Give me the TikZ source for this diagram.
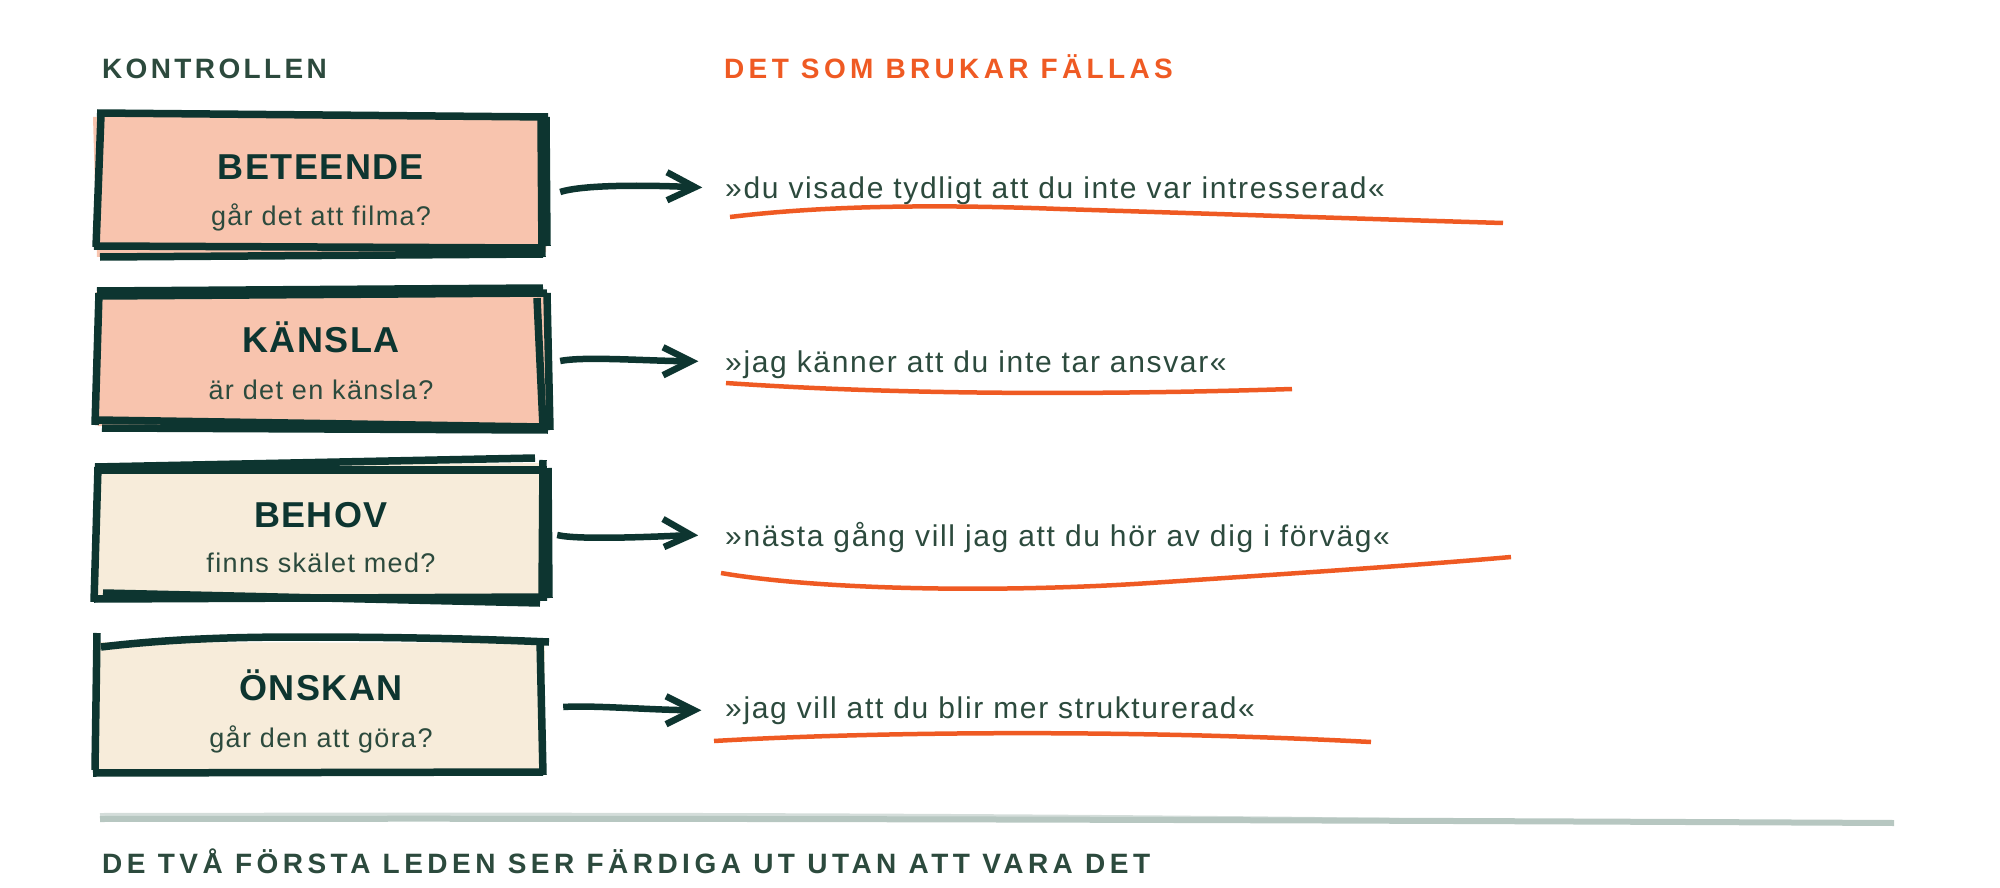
\documentclass[tikz,border=0pt]{standalone}
\usepackage{fontspec}
\usetikzlibrary{calc}
\setmainfont{Liberation Sans}
\newfontfamily\hdfont{Liberation Sans}[LetterSpace=12]
\newfontfamily\hdofont{Liberation Sans}[LetterSpace=15.5]
\newfontfamily\ftfont{Liberation Sans}[LetterSpace=16]
\newfontfamily\ttlfont{Liberation Sans}[LetterSpace=4]
\newfontfamily\subfont{Liberation Sans}[LetterSpace=5]
\newfontfamily\qfont{Liberation Sans}[LetterSpace=5.5]
\definecolor{inkdark}{HTML}{0D3530}
\definecolor{inktext}{HTML}{2C4A3D}
\definecolor{orangeline}{HTML}{EF5A23}
\definecolor{salmonfill}{HTML}{F8C4AE}
\definecolor{creamfill}{HTML}{F7ECDA}
\definecolor{greyline}{HTML}{B7C7C1}
\begin{document}
\begin{tikzpicture}[x=1pt,y=-1pt,
  sketch/.style={draw=inkdark,line width=7.5pt,line cap=butt},
  arrline/.style={draw=inkdark,line width=6.5pt,line cap=butt,line join=miter},
  uline/.style={draw=orangeline,line width=4.5pt,line cap=butt},
  header/.style={anchor=base west,inner sep=0pt,font=\hdfont\bfseries\fontsize{28}{32}\selectfont},
  title/.style={anchor=base,inner sep=0pt,text=inkdark,font=\ttlfont\bfseries\fontsize{36}{40}\selectfont},
  subtitle/.style={anchor=base,inner sep=0pt,text=inktext,font=\subfont\fontsize{27}{30}\selectfont},
  quote/.style={anchor=base west,inner sep=0pt,text=inktext,font=\qfont\fontsize{30}{34}\selectfont},
  boxnode/.style={inner sep=0pt,minimum width=450pt,minimum height=137pt}
]
\useasboundingbox (0,0) rectangle (2000,888);

% headers
\node[header,text=inktext] (hk) at (102,79) {KONTROLLEN};
\node[header,text=orangeline,font=\hdofont\bfseries\fontsize{28}{32}\selectfont] (hd) at (724,79) {DET SOM BRUKAR FÄLLAS};

% ---------- box 1
\fill[salmonfill] (93,117) -- (546,116) -- (546,252) -- (97,257) -- cycle;
\draw[sketch] (97,113) -- (548,117);
\draw[sketch] (101,115) -- (96,247);
\draw[sketch] (541,118) -- (542,257);
\draw[sketch] (546,117) -- (547,246);
\draw[sketch] (94,246) -- (541,248);
\draw[sketch] (100,257) -- (543,254);
\node[boxnode] (b1) at (321,185) {};
\node[title] (t1) at (321,179) {BETEENDE};
\node[subtitle] (s1) at (321,225) {går det att filma?};

% ---------- box 2
\fill[salmonfill] (96,292) -- (546,290) -- (549,428) -- (98,426) -- cycle;
\draw[sketch] (97,291) -- (543,288);
\draw[sketch] (100,296) -- (547,293);
\draw[sketch] (99,293) -- (95,425);
\draw[sketch] (537,298) -- (543,427);
\draw[sketch] (547,293) -- (550,430);
\draw[sketch] (97,420) -- (543,427);
\draw[sketch] (102,428) -- (548,430);
\node[boxnode] (b2) at (321,360) {};
\node[title] (t2) at (321,352) {KÄNSLA};
\node[subtitle] (s2) at (321,399) {är det en känsla?};

% ---------- box 3
\fill[creamfill] (96,466) -- (545,463) -- (546,599) -- (97,600) -- cycle;
\draw[sketch] (95,467) -- (535,458);
\draw[sketch] (100,470) -- (547,470);
\draw[sketch] (98,467) -- (94,602);
\draw[sketch] (543,460) -- (542,596);
\draw[sketch] (548,468) -- (549,598);
\draw[sketch] (94,599) -- (547,597);
\draw[sketch] (103,593) -- (540,603);
\node[boxnode] (b3) at (321,532) {};
\node[title] (t3) at (321,527) {BEHOV};
\node[subtitle] (s3) at (321,572) {finns skälet med?};

% ---------- box 4
\fill[creamfill] (98,642) -- (545,643) -- (543,770) -- (97,772) -- cycle;
\draw[sketch] (101,647) .. controls (160,640) and (220,637) .. (300,637) .. controls (400,637) and (480,639) .. (549,642);
\draw[sketch] (97,633) -- (95,770);
\draw[sketch] (540,640) -- (543,775);
\draw[sketch] (93,773) -- (543,772);
\node[boxnode] (b4) at (321,705) {};
\node[title] (t4) at (321,700) {ÖNSKAN};
\node[subtitle] (s4) at (321,747) {går den att göra?};

% ---------- quotes
\node[quote] (q1) at (725,198) {»du visade tydligt att du inte var intresserad«};
\node[quote] (q2) at (725,372) {»jag känner att du inte tar ansvar«};
\node[quote] (q3) at (725,546) {»nästa gång vill jag att du hör av dig i förväg«};
\node[quote] (q4) at (725,718) {»jag vill att du blir mer strukturerad«};

% ---------- arrows
\coordinate (a1s) at ([xshift=14pt,yshift=-7pt]b1.east);
\coordinate (a1e) at ([xshift=-30pt,yshift=3pt]q1.west);
\draw[arrline] (a1s) .. controls +(25,-8) and +(-40,-2) .. (a1e);
\draw[arrline] ($(a1e)+(-28,-15)$) -- (a1e) -- ($(a1e)+(-28,13)$);

\coordinate (a2s) at ([xshift=14pt,yshift=-1pt]b2.east);
\coordinate (a2e) at ([xshift=-34pt,yshift=3pt]q2.west);
\draw[arrline] (a2s) .. controls +(25,-5) and +(-40,0) .. (a2e);
\draw[arrline] ($(a2e)+(-28,-14)$) -- (a2e) -- ($(a2e)+(-28,14)$);

\coordinate (a3s) at ([xshift=11pt,yshift=-3pt]b3.east);
\coordinate (a3e) at ([xshift=-34pt,yshift=2pt]q3.west);
\draw[arrline] (a3s) .. controls +(20,5) and +(-40,2) .. (a3e);
\draw[arrline] ($(a3e)+(-28,-16)$) -- (a3e) -- ($(a3e)+(-27,12)$);

\coordinate (a4s) at ([xshift=17pt,yshift=-2pt]b4.east);
\coordinate (a4e) at ([xshift=-31pt,yshift=0pt]q4.west);
\draw[arrline] (a4s) .. controls +(30,-2) and +(-40,0) .. (a4e);
\draw[arrline] ($(a4e)+(-28,-14)$) -- (a4e) -- ($(a4e)+(-28,14)$);

% ---------- orange underlines
\draw[uline] (730,217) .. controls (820,206) and (930,204) .. (1060,209) .. controls (1250,215) and (1400,220) .. (1503,223);
\draw[uline] (726,383) .. controls (900,395) and (1100,395) .. (1292,389);
\draw[uline] (721,573) .. controls (820,590) and (1000,593) .. (1150,583) .. controls (1300,573) and (1420,565) .. (1511,557);
\draw[uline] (714,741) .. controls (850,733) and (1100,728) .. (1371,742);

% ---------- grey rule and footer
\draw[greyline,line width=6pt] (100,819) .. controls (700,818) and (1300,820) .. (1894,823);
\draw[greyline,line width=4pt,opacity=0.6] (100,815) .. controls (600,814) and (1000,815) .. (1400,820);
\node[header,text=inktext,font=\ftfont\bfseries\fontsize{28}{32}\selectfont] (ft) at (102,873) {DE TVÅ FÖRSTA LEDEN SER FÄRDIGA UT UTAN ATT VARA DET};
\end{tikzpicture}
\end{document}
